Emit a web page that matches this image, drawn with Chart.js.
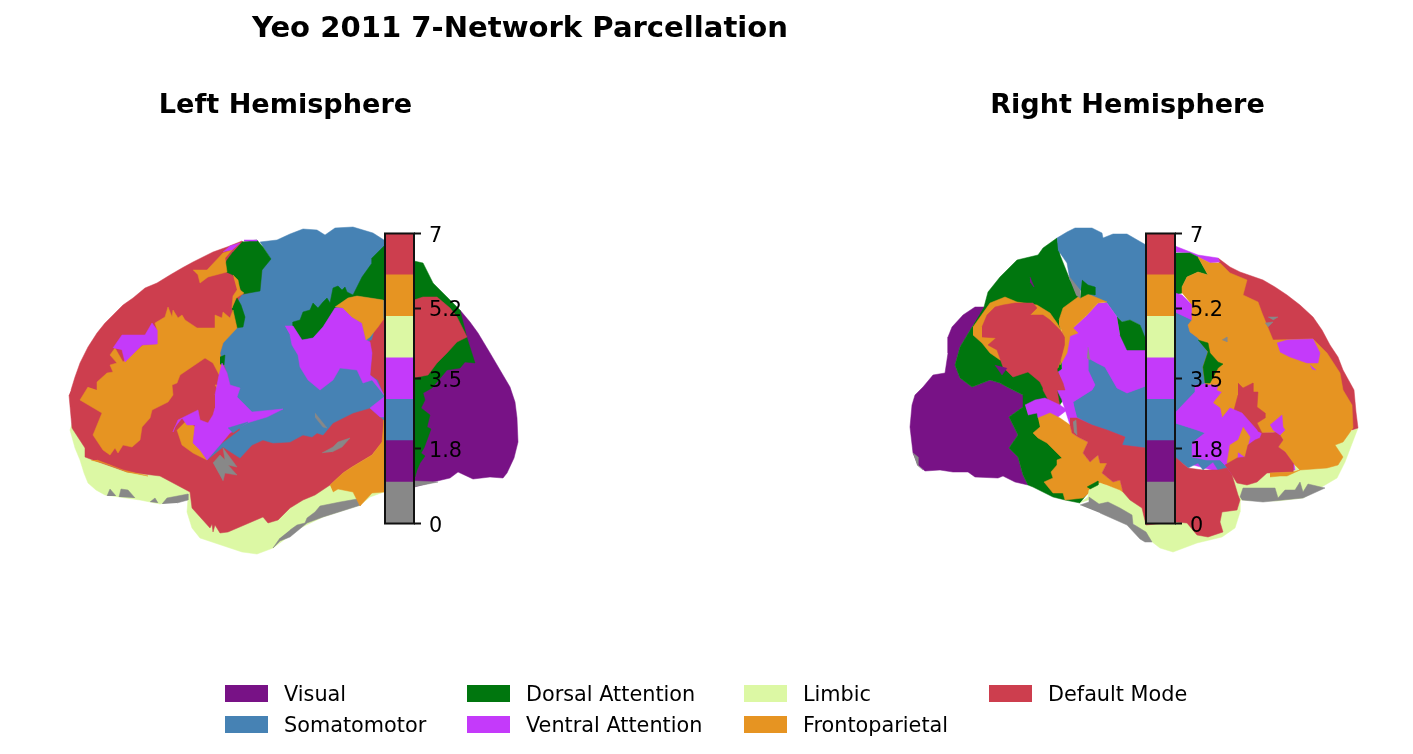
<!DOCTYPE html>
<html>
<head>
<meta charset="utf-8">
<title>Yeo 2011 7-Network Parcellation</title>
<script src="https://cdn.jsdelivr.net/npm/chart.js@4"></script>
<style>
    body { margin: 0; background: #fff; font-family: "DejaVu Sans", sans-serif; color: #000; overflow: hidden; }
    #page { position: relative; width: 1413px; height: 754px; }
    #page canvas { position: absolute; }
    .heading { position: absolute; font-weight: bold; white-space: nowrap; transform: translate(-50%, -50%); }
    .swatch { position: absolute; width: 43px; height: 17px; }
    .entry { position: absolute; font-size: 20.8px; white-space: nowrap; transform: translateY(-50%); }
</style>
</head>
<body>
<div id="page">
    <canvas id="brainChart" width="1413" height="754" style="left:0;top:0"></canvas>
    <canvas id="leftBar" width="91" height="331" style="left:383px;top:213px"></canvas>
    <canvas id="rightBar" width="91" height="331" style="left:1144px;top:213px"></canvas>
    <div class="heading" style="left:520px;top:27px;font-size:29.1px">Yeo 2011 7-Network Parcellation</div>
    <div class="heading" style="left:285.5px;top:103px;font-size:27.1px">Left Hemisphere</div>
    <div class="heading" style="left:1127.5px;top:103px;font-size:27.1px">Right Hemisphere</div>
    <div id="legend"></div>
</div>
<script>
// Network names and colours (Yeo 2011)
const networkNames = ['Visual', 'Somatomotor', 'Dorsal Attention', 'Ventral Attention', 'Limbic', 'Frontoparietal', 'Default Mode'];
const networkColors = ['#781286', '#4682B4', '#00760E', '#C43AFA', '#DCF8A4', '#E69422', '#CD3E4E'];
const noNetwork = '#888888';

// Colorbar
const colorbarColors = ['#888888', '#781286', '#4682B4', '#C43AFA', '#DCF8A4', '#E69422', '#CD3E4E'];
const colorbarTicks = [0, 1.8, 3.5, 5.2, 7];

// Legend columns
const legendX = [225, 225, 467, 467, 744, 744, 989];
const legendY = [694, 725, 694, 725, 694, 725, 694];

// Left hemisphere outlines (x, y on the page grid)
const leftLimbic = [[72,424],[70,430],[75,448],[80,460],[84,473],[88,483],[96,490],[105,495],[140,500],[160,504],[188,498],[187,512],[192,528],[200,538],[227,547],[242,552],[257,554],[273,548],[300,528],[323,517],[360,505],[370,497],[384,492],[384,470],[350,470],[300,490],[200,490],[100,450]];
const leftGrayStrip = [[290,530],[297,525],[305,523],[307,518],[315,512],[320,506],[340,502],[357,499],[361,505],[323,517],[307,523],[290,537],[280,541],[273,548],[280,538]];
const leftGrayTooth1 = [[107,496],[110,489],[116,496]];
const leftGrayTooth2 = [[119,497],[121,489],[128,490],[135,498]];
const leftGrayTooth3 = [[150,502],[155,498],[158,503]];
const leftGrayTooth4 = [[162,504],[167,498],[188,494],[188,500],[177,503]];
const leftGrayBack = [[414,481],[438,482],[418,486],[414,487]];
const leftVisual = [[460,310],[470,322],[478,333],[490,353],[500,370],[510,387],[515,402],[517,418],[518,442],[514,458],[507,473],[503,478],[490,477],[473,479],[458,472],[450,478],[433,482],[414,487],[414,380],[440,365]];
const leftDorsalBack = [[414,261],[423,263],[433,283],[447,297],[460,310],[467,338],[475,363],[465,362],[460,368],[447,370],[432,388],[423,393],[425,400],[421,408],[430,415],[427,427],[431,429],[427,440],[424,448],[421,453],[425,456],[420,463],[417,470],[415,477],[414,477]];
const leftDefault = [[71,390],[75,377],[80,363],[88,347],[97,333],[105,323],[115,313],[123,305],[133,298],[145,288],[157,283],[170,275],[182,268],[193,262],[203,257],[213,252],[227,247],[242,241],[260,260],[300,300],[384,420],[384,440],[372,455],[352,467],[343,473],[330,485],[315,495],[303,500],[290,508],[278,520],[268,523],[263,517],[228,532],[220,533],[215,525],[213,532],[212,524],[210,528],[192,508],[190,492],[160,476],[127,472],[93,460],[85,457],[85,448],[72,428],[69,395]];
const leftFrontoTemporal = [[330,485],[343,473],[352,467],[372,455],[382,442],[384,420],[384,492],[372,493],[360,506],[353,492],[338,489],[333,492]];
const leftSomato = [[260,242],[277,240],[290,234],[303,229],[317,230],[325,235],[335,228],[353,227],[373,233],[384,240],[384,420],[370,408],[353,413],[333,423],[323,435],[317,433],[312,437],[303,435],[290,442],[273,443],[263,440],[252,445],[240,458],[223,447],[207,460],[220,445],[240,430],[227,373],[220,353],[223,343],[235,328],[245,317],[233,308],[242,295],[260,290],[262,270],[270,258]];
const leftDorsalTop = [[242,242],[257,240],[263,247],[271,259],[262,270],[260,291],[243,294],[240,288],[233,275],[222,270],[227,260],[233,252]];
const leftDorsalBand = [[384,246],[372,258],[372,263],[362,277],[353,295],[347,292],[345,287],[342,290],[338,286],[333,288],[330,303],[327,298],[323,302],[318,308],[313,303],[310,310],[303,312],[300,320],[293,322],[293,326],[302,340],[313,338],[323,327],[335,308],[348,298],[357,296],[384,300]];
const leftDorsalThin = [[232,308],[237,298],[241,305],[245,317],[243,327],[235,328],[233,317]];
const leftDorsalSpot = [[220,357],[225,355],[224,365],[220,364]];
const leftFrontoBig = [[97,390],[97,382],[107,373],[113,372],[110,365],[117,363],[110,355],[115,348],[123,362],[143,345],[157,344],[157,330],[155,323],[165,317],[168,307],[172,317],[173,310],[178,318],[182,315],[185,320],[197,328],[215,328],[215,315],[222,318],[223,312],[230,318],[233,310],[237,328],[223,343],[220,353],[223,377],[227,390],[213,363],[205,358],[180,375],[177,383],[172,385],[173,395],[168,402],[152,410],[150,418],[142,427],[140,440],[132,447],[123,445],[118,453],[115,448],[110,455],[103,450],[93,435],[102,413],[80,400],[88,387]];
const leftFrontoHook = [[193,270],[207,270],[223,253],[232,250],[225,258],[227,272],[208,277],[200,283],[198,275]];
const leftFrontoStrip = [[233,275],[238,280],[240,290],[244,293],[236,298],[232,308],[233,296],[237,290]];
const leftFrontoUpper = [[335,307],[348,298],[357,296],[383,300],[383,320],[378,327],[370,337],[366,340],[362,323],[352,317],[343,308]];
const leftFrontoInset = [[187,420],[195,427],[193,443],[202,448],[207,460],[193,453],[182,445],[177,430]];
const leftFrontoSliver = [[91,460],[103,463],[123,470],[148,476],[127,472],[110,465],[97,460]];
const leftFrontoBit = [[215,385],[225,385],[220,395]];
const leftVentralUpper = [[285,326],[293,326],[302,340],[313,338],[323,327],[335,308],[343,308],[352,317],[362,323],[366,340],[370,342],[372,353],[370,375],[376,380],[384,395],[380,390],[372,380],[363,383],[357,370],[340,368],[333,380],[320,390],[308,380],[300,367],[298,355],[292,345],[290,335]];
const leftVentralChunk = [[384,397],[370,408],[380,417],[384,417]];
const leftVentralLower = [[215,395],[219,375],[222,363],[227,373],[230,385],[240,388],[237,397],[245,405],[252,412],[283,409],[267,417],[247,423],[230,433],[220,445],[207,460],[200,450],[193,443],[195,425],[187,425],[182,418],[175,427],[173,432],[178,420],[198,410],[200,420],[208,423],[213,415],[215,408]];
const leftVentralFront = [[113,348],[122,335],[145,335],[152,323],[157,330],[157,344],[142,345],[125,362],[122,350]];
const leftVentralTop = [[223,252],[230,246],[240,243],[232,250]];
const leftVentralCap = [[244,240],[257,240],[257,241],[244,241]];
const leftSomatoSliver = [[228,428],[248,422],[233,433]];
const leftDefaultBack = [[384,318],[376,325],[372,340],[367,342],[372,353],[370,375],[378,380],[384,395],[414,378],[418,377],[428,375],[437,363],[447,353],[457,342],[467,337],[457,317],[450,308],[437,297],[423,297],[414,300]];
const leftGrayInset = [[213,463],[220,455],[225,460],[223,448],[237,467],[228,465],[237,475],[225,473],[223,481]];
const leftGraySlit = [[315,413],[327,428],[323,427],[315,417]];
const leftGraySliver = [[322,453],[333,447],[338,442],[350,438],[342,447],[332,452]];

// Right hemisphere outlines
const rightLimbic = [[1358,428],[1345,462],[1337,478],[1320,488],[1303,498],[1277,501],[1240,500],[1240,512],[1235,528],[1222,537],[1197,543],[1173,552],[1160,548],[1147,538],[1130,520],[1088,497],[1100,483],[1120,490],[1160,480],[1250,470],[1330,440]];
const rightVisual = [[985,307],[975,307],[963,315],[952,327],[948,337],[948,353],[945,373],[933,375],[923,387],[915,395],[912,405],[910,427],[913,453],[918,465],[925,471],[940,470],[953,472],[968,472],[975,477],[998,478],[1003,476],[1015,482],[1028,485],[1023,475],[1018,457],[1009,448],[1018,435],[1009,417],[1023,407],[1023,395],[1007,387],[1000,383],[990,380],[972,387],[960,378],[955,365],[960,347],[972,327],[982,313]];
const rightDorsal = [[984,307],[988,292],[1000,277],[1017,260],[1038,255],[1043,248],[1057,238],[1060,255],[1070,280],[1080,295],[1060,320],[1063,400],[1050,420],[1090,490],[1080,503],[1065,500],[1053,497],[1033,487],[1028,485],[1023,475],[1018,457],[1009,448],[1018,435],[1009,417],[1023,407],[1023,395],[1007,387],[1000,383],[990,380],[972,387],[960,378],[955,365],[960,347],[972,327]];
const rightGrayStrip = [[1080,505],[1089,502],[1089,497],[1099,504],[1108,502],[1120,508],[1132,515],[1133,524],[1146,532],[1152,542],[1145,542],[1140,539],[1127,525],[1100,513]];
const rightGrayBase = [[1240,497],[1243,488],[1275,488],[1278,498],[1285,490],[1295,490],[1300,482],[1303,492],[1308,484],[1325,488],[1303,498],[1263,502],[1242,500]];
const rightGrayBack = [[913,453],[918,457],[918,465],[923,470],[917,465]];
const rightDefaultArc = [[1218,258],[1230,267],[1240,272],[1263,280],[1275,287],[1287,295],[1300,305],[1313,317],[1322,330],[1330,345],[1338,357],[1343,370],[1354,390],[1356,412],[1358,428],[1352,430],[1250,350],[1220,270]];
const rightUnderLeft = [[1062,325],[1146,340],[1146,450],[1090,440],[1070,425],[1062,400]];
const rightUnderRight = [[1175,300],[1262,320],[1290,440],[1295,470],[1230,475],[1175,460]];
const rightSomatoTop = [[1057,238],[1067,232],[1075,228],[1092,228],[1102,233],[1103,238],[1113,234],[1127,234],[1146,245],[1146,350],[1140,325],[1130,320],[1122,322],[1117,317],[1107,303],[1098,300],[1080,290],[1070,280],[1067,263],[1058,250]];
const rightSomatoLower = [[1073,402],[1092,390],[1095,385],[1088,370],[1088,358],[1097,363],[1105,367],[1117,388],[1127,393],[1146,386],[1146,448],[1122,445],[1125,437],[1107,430],[1092,425],[1077,417]];
const rightSomatoBarTop = [[1175,312],[1192,320],[1188,325],[1190,332],[1198,338],[1208,352],[1203,367],[1205,383],[1195,387],[1195,392],[1175,413]];
const rightSomatoBarLow = [[1175,423],[1197,430],[1205,433],[1192,443],[1192,457],[1207,460],[1220,460],[1227,468],[1218,470],[1213,462],[1203,470],[1198,463],[1188,468],[1175,457]];
const rightVentralMain = [[1098,303],[1107,303],[1117,317],[1120,335],[1127,350],[1146,350],[1146,386],[1127,393],[1117,388],[1105,367],[1097,363],[1088,358],[1088,370],[1095,385],[1092,390],[1073,402],[1075,415],[1067,410],[1057,390],[1063,385],[1058,372],[1065,367],[1067,353],[1070,343],[1073,328],[1085,317]];
const rightFrontoParietal = [[973,327],[990,303],[1005,297],[1017,302],[1037,305],[1050,313],[1057,323],[1065,337],[1065,347],[1060,362],[1058,368],[1050,360],[1000,360],[990,353],[982,343],[973,335]];
const rightDefaultParietal = [[982,327],[987,315],[995,307],[1003,305],[1015,303],[1033,303],[1037,308],[1030,315],[1043,315],[1050,320],[1060,330],[1065,337],[1065,347],[1058,367],[1057,370],[1063,383],[1065,390],[1057,390],[1060,407],[1052,407],[1043,390],[1043,388],[1040,382],[1028,372],[1013,377],[1003,367],[997,350],[988,345],[996,338],[982,337]];
const rightVentralArm = [[1025,405],[1035,400],[1045,398],[1060,405],[1067,410],[1058,417],[1038,418],[1037,413],[1028,415]];
const rightFrontoAngular = [[1059,320],[1063,308],[1078,297],[1088,294],[1107,302],[1098,303],[1087,315],[1073,328],[1078,333],[1070,336],[1067,353],[1062,362],[1060,365],[1065,345],[1065,337],[1059,325]];
const rightDorsalTooth = [[1082,280],[1088,285],[1095,287],[1095,295],[1088,294],[1080,298]];
const rightDorsalTeeth = [[1117,317],[1122,322],[1130,320],[1140,325],[1146,340],[1146,350],[1127,350],[1120,335]];
const rightFrontoTemporal = [[1038,418],[1050,413],[1060,418],[1070,425],[1072,433],[1078,437],[1088,442],[1083,453],[1090,462],[1098,455],[1100,463],[1107,463],[1102,473],[1113,482],[1120,480],[1123,492],[1120,490],[1107,485],[1100,483],[1090,492],[1083,498],[1065,500],[1063,493],[1053,493],[1044,482],[1053,478],[1051,472],[1057,465],[1057,460],[1062,458],[1047,443],[1038,438],[1033,433],[1040,427]];
const rightLimbicPeak = [[1080,503],[1088,497],[1089,490],[1100,483],[1107,486],[1120,492],[1135,500],[1146,510],[1146,530],[1132,520],[1120,505],[1108,500],[1099,504],[1089,500]];
const rightDorsalSpot = [[1087,487],[1098,481],[1098,485],[1090,489]];
const rightDefaultTemporal = [[1070,418],[1077,418],[1092,425],[1107,430],[1125,437],[1122,445],[1146,448],[1175,457],[1188,468],[1203,470],[1218,470],[1227,468],[1232,475],[1238,495],[1240,500],[1237,510],[1222,512],[1220,522],[1223,532],[1208,537],[1197,535],[1187,523],[1175,522],[1146,525],[1142,508],[1130,500],[1123,492],[1120,480],[1113,482],[1102,473],[1107,463],[1100,463],[1098,455],[1090,462],[1083,453],[1088,442],[1078,437],[1072,433],[1070,425]];
const rightVentralTop = [[1175,246],[1198,255],[1218,258],[1220,262],[1210,263],[1198,257],[1190,253],[1175,252]];
const rightDorsalBarTop = [[1175,253],[1190,253],[1198,257],[1208,275],[1198,272],[1187,277],[1182,287],[1182,293],[1175,295]];
const rightVentralBar = [[1175,293],[1182,295],[1192,305],[1192,320],[1175,312]];
const rightFrontoBig = [[1182,293],[1182,287],[1187,277],[1198,272],[1208,275],[1198,257],[1210,263],[1220,263],[1230,273],[1247,280],[1243,295],[1258,302],[1262,313],[1273,340],[1313,339],[1327,353],[1340,373],[1343,390],[1352,405],[1353,428],[1343,442],[1335,445],[1343,457],[1338,465],[1327,468],[1300,470],[1293,463],[1285,452],[1278,447],[1283,440],[1278,432],[1262,433],[1253,427],[1245,417],[1234,410],[1230,408],[1222,418],[1220,408],[1213,403],[1222,392],[1217,390],[1205,383],[1203,367],[1208,352],[1198,338],[1190,332],[1188,325],[1192,320],[1192,305]];
const rightDefaultPocket = [[1238,383],[1243,388],[1253,383],[1253,392],[1258,392],[1257,407],[1265,413],[1265,418],[1257,423],[1262,433],[1255,430],[1245,417],[1234,410],[1238,395]];
const rightVentralPocket = [[1277,343],[1287,340],[1313,339],[1320,353],[1318,363],[1307,363],[1290,357],[1280,352]];
const rightVentralFleck = [[1310,365],[1316,370],[1312,369]];
const rightDorsalStrip = [[1198,340],[1208,343],[1210,353],[1218,362],[1223,364],[1218,368],[1210,383],[1205,383],[1203,367],[1208,352]];
const rightVentralLower = [[1175,413],[1195,392],[1195,385],[1218,385],[1213,403],[1220,408],[1222,418],[1230,408],[1242,413],[1257,430],[1260,438],[1255,440],[1243,427],[1227,452],[1225,465],[1220,460],[1207,460],[1192,457],[1192,443],[1205,433],[1197,430],[1175,423]];
const rightFrontoInset = [[1243,427],[1250,437],[1248,445],[1245,457],[1238,452],[1237,460],[1227,463],[1230,445],[1238,440]];
const rightDefaultMid = [[1225,465],[1237,458],[1245,457],[1248,445],[1255,440],[1260,438],[1262,433],[1273,433],[1278,432],[1283,440],[1278,447],[1285,452],[1293,463],[1293,472],[1267,473],[1257,482],[1247,485],[1237,483],[1232,475]];
const rightVentralBit = [[1270,425],[1282,415],[1283,427],[1285,430],[1280,435],[1273,430]];
const rightFrontoSliver = [[1270,473],[1293,472],[1300,470],[1287,476],[1280,476],[1270,477]];
const rightGraySpot1 = [[1268,317],[1278,317],[1273,320]];
const rightGraySpot2 = [[1265,323],[1273,322],[1268,327]];
const rightGraySpot3 = [[1222,340],[1227,337],[1227,342]];
const rightGrayFold1 = [[1068,275],[1080,290],[1080,298],[1076,295]];
const rightGrayFold2 = [[1088,347],[1090,360],[1087,358]];
const rightGrayFold3 = [[1073,422],[1076,420],[1077,435],[1074,432]];
const rightVisualFleck = [[1030,277],[1034,287],[1030,282]];
const rightVisualSpot = [[995,365],[1002,375],[1007,368]];

const [visual, somato, dorsal, ventral, limbic, fronto, dmn] = networkColors;

// Painted in this order, later ones over earlier ones
const regions = [
    [limbic, leftLimbic], [noNetwork, leftGrayStrip], [noNetwork, leftGrayTooth1], [noNetwork, leftGrayTooth2],
    [noNetwork, leftGrayTooth3], [noNetwork, leftGrayTooth4], [visual, leftVisual], [noNetwork, leftGrayBack],
    [dorsal, leftDorsalBack], [dmn, leftDefault], [fronto, leftFrontoTemporal], [somato, leftSomato],
    [dorsal, leftDorsalTop], [dorsal, leftDorsalBand], [dorsal, leftDorsalThin], [fronto, leftFrontoBig],
    [dorsal, leftDorsalSpot], [fronto, leftFrontoHook], [fronto, leftFrontoStrip], [fronto, leftFrontoInset],
    [fronto, leftFrontoSliver], [fronto, leftFrontoBit], [dmn, leftDefaultBack], [ventral, leftVentralUpper],
    [fronto, leftFrontoUpper], [ventral, leftVentralChunk], [ventral, leftVentralLower], [ventral, leftVentralFront],
    [ventral, leftVentralTop], [ventral, leftVentralCap], [somato, leftSomatoSliver], [noNetwork, leftGrayInset],
    [noNetwork, leftGraySlit], [noNetwork, leftGraySliver],

    [limbic, rightLimbic], [noNetwork, rightGrayBase], [visual, rightVisual], [noNetwork, rightGrayBack],
    [dorsal, rightDorsal], [dmn, rightDefaultArc], [ventral, rightUnderLeft], [ventral, rightUnderRight],
    [somato, rightSomatoTop], [somato, rightSomatoLower],
    [somato, rightSomatoBarTop], [somato, rightSomatoBarLow], [ventral, rightVentralMain], [fronto, rightFrontoParietal],
    [dmn, rightDefaultParietal], [ventral, rightVentralArm], [fronto, rightFrontoAngular], [dorsal, rightDorsalTooth],
    [dorsal, rightDorsalTeeth], [fronto, rightFrontoTemporal], [limbic, rightLimbicPeak], [noNetwork, rightGrayStrip],
    [dorsal, rightDorsalSpot], [dmn, rightDefaultTemporal], [ventral, rightVentralTop], [dorsal, rightDorsalBarTop],
    [ventral, rightVentralBar], [fronto, rightFrontoBig], [dmn, rightDefaultPocket], [ventral, rightVentralPocket],
    [ventral, rightVentralFleck], [dorsal, rightDorsalStrip], [ventral, rightVentralLower], [fronto, rightFrontoInset],
    [dmn, rightDefaultMid], [ventral, rightVentralBit], [fronto, rightFrontoSliver], [noNetwork, rightGraySpot1],
    [noNetwork, rightGraySpot2], [noNetwork, rightGraySpot3], [noNetwork, rightGrayFold1], [noNetwork, rightGrayFold2],
    [noNetwork, rightGrayFold3], [visual, rightVisualFleck], [visual, rightVisualSpot]
];

// Brain surfaces: one filled line dataset per region
new Chart(document.getElementById('brainChart'), {
    type: 'scatter',
    data: {
        datasets: regions.map(([color, points], i) => ({
            data: points.map(([x, y]) => ({ x, y })),
            showLine: true,
            fill: 'shape',
            backgroundColor: color,
            borderColor: color,
            borderWidth: 0.5,
            pointRadius: 0,
            tension: 0,
            order: regions.length - i
        }))
    },
    options: {
        responsive: false,
        animation: false,
        events: [],
        layout: { padding: 0 },
        plugins: { legend: { display: false }, tooltip: { enabled: false } },
        scales: {
            x: { type: 'linear', min: 0, max: 1413, display: false },
            y: { type: 'linear', min: 0, max: 754, reverse: true, display: false }
        }
    }
});

// Black frame around the colorbar
const framePlugin = {
    id: 'frame',
    afterDraw(chart) {
        const { ctx, chartArea: a } = chart;
        ctx.save();
        ctx.strokeStyle = '#111';
        ctx.lineWidth = 2;
        ctx.strokeRect(a.left, a.top, a.right - a.left, a.bottom - a.top);
        ctx.restore();
    }
};

function drawColorbar(id) {
    new Chart(document.getElementById(id), {
        type: 'bar',
        data: {
            labels: [''],
            datasets: colorbarColors.map((color) => ({
                data: [1],
                backgroundColor: color,
                barPercentage: 1,
                categoryPercentage: 1
            }))
        },
        options: {
            responsive: false,
            animation: false,
            events: [],
            layout: { padding: { left: 2, top: 7, bottom: 7, right: 0 } },
            plugins: { legend: { display: false }, tooltip: { enabled: false } },
            scales: {
                x: { stacked: true, display: false },
                y: {
                    stacked: true,
                    position: 'right',
                    min: 0,
                    max: 7,
                    afterBuildTicks: (axis) => { axis.ticks = colorbarTicks.map((value) => ({ value })); },
                    afterFit: (axis) => { axis.width = 60; },
                    border: { display: false },
                    grid: { drawOnChartArea: false, tickLength: 7, tickColor: '#111', tickWidth: 2 },
                    ticks: {
                        autoSkip: false,
                        padding: 8,
                        labelOffset: 3,
                        color: '#000',
                        font: { family: '"DejaVu Sans"', size: 20.8 },
                        callback: (value) => String(value)
                    }
                }
            }
        },
        plugins: [framePlugin]
    });
}
drawColorbar('leftBar');
drawColorbar('rightBar');

// Legend below the brains
const legend = document.getElementById('legend');
networkNames.forEach((name, i) => {
    const swatch = document.createElement('div');
    swatch.className = 'swatch';
    swatch.style.left = legendX[i] + 'px';
    swatch.style.top = (legendY[i] - 9) + 'px';
    swatch.style.background = networkColors[i];
    legend.appendChild(swatch);

    const entry = document.createElement('div');
    entry.className = 'entry';
    entry.style.left = (legendX[i] + 59) + 'px';
    entry.style.top = legendY[i] + 'px';
    entry.textContent = name;
    legend.appendChild(entry);
});
</script>
</body>
</html>
